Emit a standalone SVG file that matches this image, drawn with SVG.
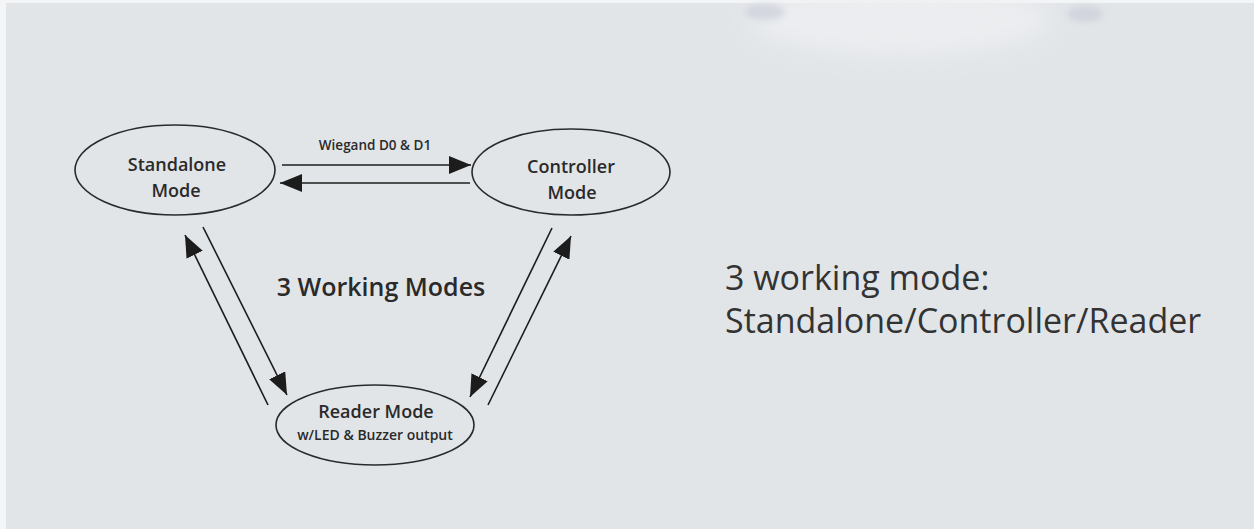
<svg xmlns="http://www.w3.org/2000/svg" width="1254" height="529" viewBox="0 0 1254 529">
<defs>
<marker id="ah" viewBox="0 0 22 18" refX="22" refY="9" markerWidth="22" markerHeight="18" markerUnits="userSpaceOnUse" orient="auto">
<path d="M0,0 L22,9 L0,18 Z" fill="#1c1c1c"/>
</marker>
<filter id="blur" x="-50%" y="-50%" width="200%" height="200%"><feGaussianBlur stdDeviation="12"/></filter>
<filter id="blur2" x="-50%" y="-50%" width="200%" height="200%"><feGaussianBlur stdDeviation="3"/></filter>
</defs>
<style>
.node ellipse{fill:none;stroke:#2a2a2a;stroke-width:1.6}
.lbl{font-family:"Open Sans","Liberation Sans",sans-serif;fill:#2a2a2a;text-anchor:middle;font-weight:600}
.conn line{stroke:#1c1c1c;stroke-width:1.6;marker-end:url(#ah)}
.big{font-family:"Open Sans","Liberation Sans",sans-serif;fill:#333;font-size:34px}
</style>
<rect width="1254" height="529" fill="#e2e5e8"/>
<rect width="1254" height="3" fill="#f4f5f6"/>
<rect width="6" height="529" fill="#f4f5f6"/>
<ellipse cx="900" cy="20" rx="150" ry="35" fill="#eef0f2" filter="url(#blur)" opacity="0.8"/>
<ellipse cx="765" cy="12" rx="20" ry="8" fill="#c7cad6" filter="url(#blur2)" opacity="0.6"/>
<ellipse cx="1085" cy="14" rx="18" ry="8" fill="#c7cad6" filter="url(#blur2)" opacity="0.6"/>
<g id="standalone" class="node">
<ellipse cx="175" cy="170" rx="100" ry="45"/>
<text class="lbl" x="177" y="171" font-size="18">Standalone</text>
<text class="lbl" x="176" y="197" font-size="18">Mode</text>
</g>
<g id="controller" class="node">
<ellipse cx="571" cy="172" rx="99" ry="43"/>
<text class="lbl" x="571" y="173" font-size="18">Controller</text>
<text class="lbl" x="572" y="199" font-size="18">Mode</text>
</g>
<g id="reader" class="node">
<ellipse cx="375" cy="425" rx="99" ry="40"/>
<text class="lbl" x="376" y="418" font-size="18">Reader Mode</text>
<text class="lbl" x="375" y="440" font-size="14">w/LED &amp; Buzzer output</text>
</g>
<g id="connectors" class="conn">
<line x1="282" y1="165" x2="471" y2="165"/>
<line x1="470" y1="183" x2="280" y2="183"/>
<line x1="203" y1="227" x2="287" y2="395"/>
<line x1="268" y1="405" x2="185" y2="235"/>
<line x1="552" y1="228" x2="470" y2="397"/>
<line x1="488" y1="405" x2="571" y2="236"/>
</g>
<text class="lbl" x="375" y="150" font-size="13.5">Wiegand D0 &amp; D1</text>
<text class="lbl" x="381" y="296" font-size="25" font-weight="700">3 Working Modes</text>
<text class="big" x="725" y="290">3 working mode:</text>
<text class="big" x="725" y="333">Standalone/Controller/Reader</text>
</svg>
